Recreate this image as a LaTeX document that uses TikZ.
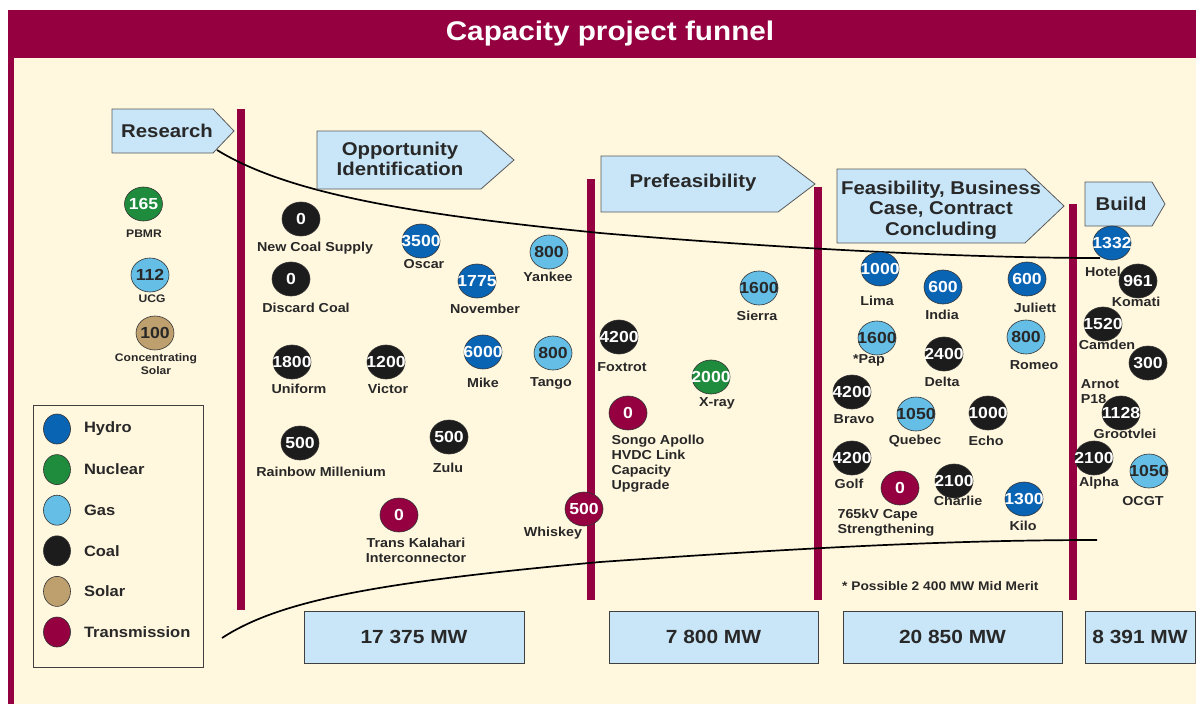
\documentclass[tikz,border=0pt]{standalone}
\usepackage{fontspec}
\setmainfont{Liberation Sans}[FakeStretch=1.1]
\usepackage{tikz}
\usetikzlibrary{shapes, positioning}

\definecolor{crimson}{RGB}{148,0,64}
\definecolor{cream}{RGB}{255,247,222}
\definecolor{stageblue}{RGB}{200,230,248}
\definecolor{hydroblue}{RGB}{10,100,180}
\definecolor{nucleargreen}{RGB}{30,140,60}
\definecolor{gasblue}{RGB}{100,190,230}
\definecolor{coalblack}{RGB}{28,28,28}
\definecolor{solartan}{RGB}{190,160,110}
\definecolor{inkgrey}{RGB}{40,40,40}

\begin{document}
\begin{tikzpicture}[x=1pt, y=-1pt,
  proj/.style={draw=black!80, ellipse, minimum width=38pt, minimum height=34pt, inner sep=0pt, line width=0.6pt, font=\fontsize{16}{16}\selectfont\bfseries},
  swatch/.style={draw=black!80, ellipse, minimum width=27pt, minimum height=30pt, inner sep=0pt, line width=0.6pt},
  hydro/.style={fill=hydroblue, text=white},
  nuclear/.style={fill=nucleargreen, text=white},
  gas/.style={fill=gasblue, text=inkgrey},
  coal/.style={fill=coalblack, text=white},
  solar/.style={fill=solartan, text=inkgrey},
  trans/.style={fill=crimson, text=white},
  lbl/.style={text=inkgrey, inner sep=0pt, font=\fontsize{13}{15}\selectfont\bfseries},
  smalllbl/.style={text=inkgrey, inner sep=0pt, font=\fontsize{11}{13}\selectfont\bfseries},
  stage/.style={draw=black!65, fill=stageblue, line width=0.8pt, line join=miter},
  stagetext/.style={text=inkgrey, inner sep=0pt, align=center, font=\fontsize{18.5}{20.5}\selectfont\bfseries},
  mwbox/.style={draw=black!75, fill=stageblue, line width=0.8pt, minimum height=52pt, inner sep=0pt, text=inkgrey, font=\fontsize{19}{19}\selectfont\bfseries},
  funnel/.style={draw=black, line width=1.7pt}]
  \useasboundingbox (0,0) rectangle (1196,704);
  \fill[white] (0,0) rectangle (1196,704);
  \fill[cream] (8,58) rectangle (1196,704);
  \fill[crimson] (8,10) rectangle (1196,58);
  \fill[crimson] (8,58) rectangle (14,704);
  \node[text=white, font=\fontsize{27}{27}\selectfont\bfseries] (title) at (610,34) {Capacity project funnel};

  \foreach \x/\top/\bot in {241/109/610, 590.5/179/600, 817.5/187/600, 1073/204/600}{
     \fill[crimson] (\x-4,\top) rectangle (\x+4,\bot);
  }

  \draw[funnel] (217,150) .. controls (290,195) and (420,215) .. (600,233)
                .. controls (750,246) and (950,258) .. (1100,258);
  \draw[funnel] (222,638) .. controls (280,600) and (380,582) .. (600,562)
                .. controls (800,548) and (950,540) .. (1097,540);

  \foreach \l/\t/\r/\p/\b in {112/109/213/234/153, 317/131/481/514/189, 601/156/778/815/212, 837/169/1025/1064/243, 1085/182/1152/1165/226}{
     \draw[stage] (\l,\t) -- (\r,\t) -- (\p,{(\t+\b)/2}) -- (\r,\b) -- (\l,\b) -- cycle;
  }
  \node[stagetext] (research) at (167,131) {Research};
  \node[stagetext] (opportunity) at (400,159) {Opportunity\\Identification};
  \node[stagetext] (prefeas) at (693,183) {Prefeasibility};
  \node[stagetext] (feasib) at (941,210) {Feasibility, Business\\Case, Contract\\Concluding};
  \node[stagetext] (build) at (1121,204) {Build};

  \foreach \x/\y/\v/\k/\lx/\ly/\txt [count=\i] in {143.5/204/165/nuclear/144/234/PBMR, 150/275/112/gas/152/299/UCG, 155/333/100/solar/156/364/{Concentrating\\Solar}}{
     \node[proj,\k] (r\i) at (\x,\y) {\makebox[0pt]{\v}};
     \node[smalllbl, align=center] (rl\i) at (\lx,\ly) {\txt};
  }

  \foreach \x/\y/\v/\k/\lx/\ly/\a/\txt [count=\i] in {
     301/219/0/coal/315/248/center/New Coal Supply,
     291/279/0/coal/306/308/center/Discard Coal,
     421/241/3500/hydro/424/264/center/Oscar,
     477/281/1775/hydro/485/309/center/November,
     549/252/800/gas/548/277/center/Yankee,
     292/362/1800/coal/299/389/center/Uniform,
     386/362/1200/coal/388/389/center/Victor,
     483/352/6000/hydro/483/383/center/Mike,
     553/353/800/gas/551/383/center/Tango,
     300/443/500/coal/321/472/center/Rainbow Millenium,
     449/437/500/coal/448/468/center/Zulu,
     399/515/0/trans/416/550/center/{Trans Kalahari\\Interconnector},
     584/509/500/trans/553/533/center/Whiskey,
     619/337/4200/coal/622/367/center/Foxtrot,
     759/288/1600/gas/757/316/center/Sierra,
     711/377/2000/nuclear/717/403/center/X-ray,
     628/413/0/trans/658/464/left/{Songo Apollo\\HVDC Link\\Capacity\\Upgrade},
     880/269/1000/hydro/877/301/center/Lima,
     943/287/600/hydro/942/315/center/India,
     1027/279/600/hydro/1035/308/center/Juliett,
     877/338/1600/gas/869/360/center/*Pap,
     944/354/2400/coal/942/382/center/Delta,
     1026/337/800/gas/1034/365/center/Romeo,
     852/392/4200/coal/854/419/center/Bravo,
     916/414/1050/gas/915/441/center/Quebec,
     988/413/1000/coal/986/441/center/Echo,
     852/458/4200/coal/849/484/center/Golf,
     900/488/0/trans/886/523/left/{765kV Cape\\Strengthening},
     954/481/2100/coal/958/501/center/Charlie,
     1024/499/1300/hydro/1023/526/center/Kilo,
     1112/243/1332/hydro/1103/272/center/Hotel,
     1138/281/961/coal/1136/302/center/Komati,
     1103/324/1520/coal/1107/345/center/Camden,
     1148/363/300/coal/1100/392/left/{Arnot\\P18},
     1121/413/1128/coal/1125/434/center/Grootvlei,
     1094/458/2100/coal/1099/483/center/Alpha,
     1149/471/1050/gas/1143/501/center/OCGT}{
     \node[proj,\k] (p\i) at (\x,\y) {\makebox[0pt]{\v}};
     \node[lbl, align=\a] (l\i) at (\lx,\ly) {\txt};
  }
  \node[lbl, font=\fontsize{12.5}{14}\selectfont\bfseries, anchor=west] (note) at (842,586) {* Possible 2 400 MW Mid Merit};

  \draw[black!75, line width=0.8pt] (33,405) rectangle (203,667);
  \foreach \k/\n [count=\i] in {hydro/Hydro, nuclear/Nuclear, gas/Gas, coal/Coal, solar/Solar, trans/Transmission}{
     \node[swatch,\k] (k\i) at (57,{429+40.6*(\i-1)}) {};
     \node[lbl, font=\fontsize{15}{15}\selectfont\bfseries, right=13pt of k\i] (kl\i) {\n};
  }

  \foreach \l/\r/\txt [count=\i] in {304/524/17 375 MW, 609/818/7 800 MW, 843/1062/20 850 MW, 1085/1195/8 391 MW}{
     \node[mwbox, minimum width={\r-\l}] (mw\i) at ({(\l+\r)/2},637) {\txt};
  }
\end{tikzpicture}
\end{document}
